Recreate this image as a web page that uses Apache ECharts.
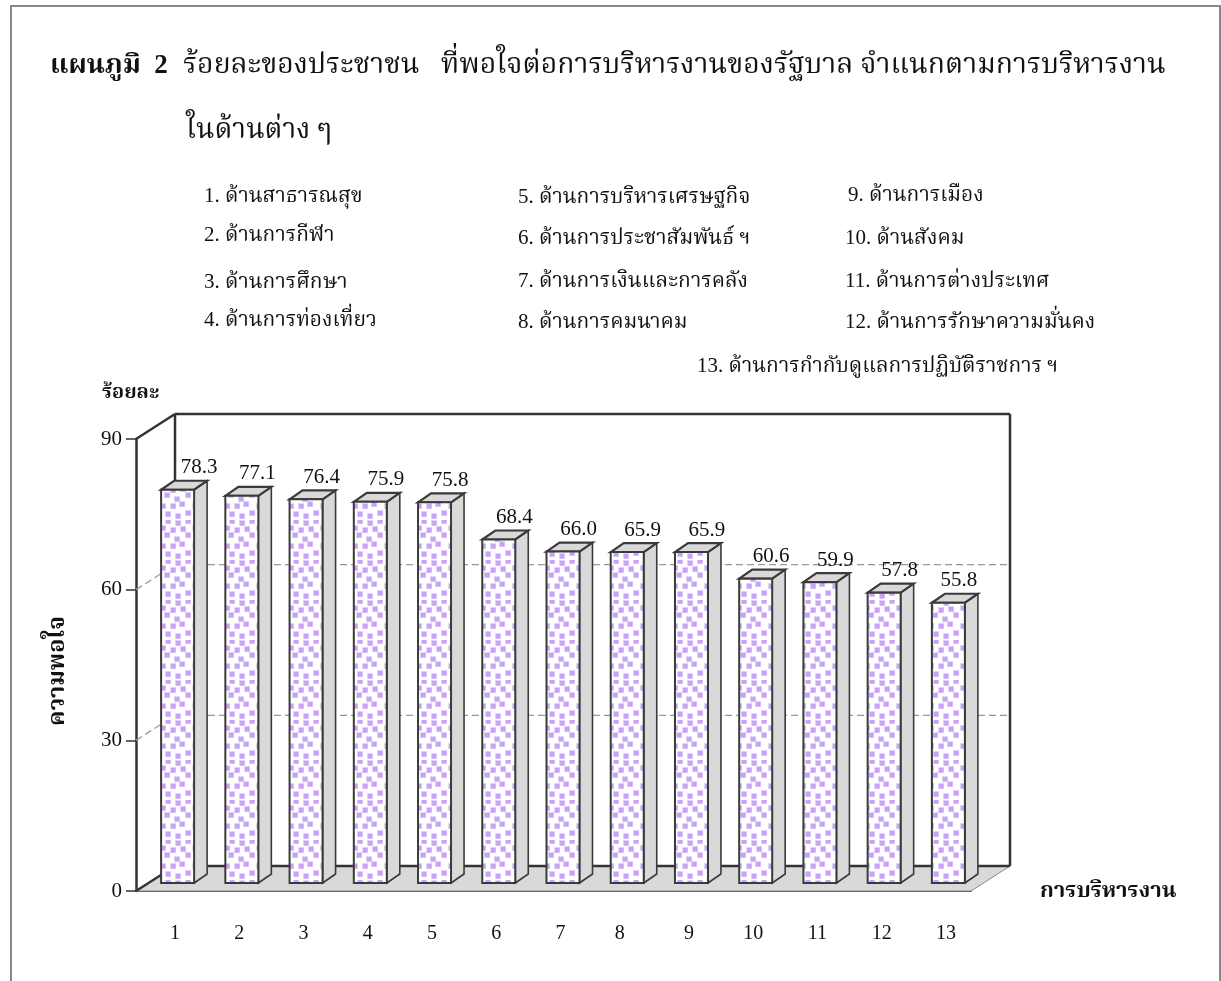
<!DOCTYPE html>
<html><head><meta charset="utf-8">
<style>html,body{margin:0;padding:0;background:#fff}#c{width:1221px;height:981px}</style>
<script src="https://cdn.jsdelivr.net/npm/echarts@6/dist/echarts.min.js"></script>
</head><body><div id="c"></div>
<script>
const categories = ['1','2','3','4','5','6','7','8','9','10','11','12','13'];
const satisfaction = [78.3,77.1,76.4,75.9,75.8,68.4,66.0,65.9,65.9,60.6,59.9,57.8,55.8];
const gridValues = [30,60];
const legendTexts = [
 '1. ด้านสาธารณสุข','2. ด้านการกีฬา','3. ด้านการศึกษา','4. ด้านการท่องเที่ยว',
 '5. ด้านการบริหารเศรษฐกิจ','6. ด้านการประชาสัมพันธ์ ฯ','7. ด้านการเงินและการคลัง','8. ด้านการคมนาคม',
 '9. ด้านการเมือง','10. ด้านสังคม','11. ด้านการต่างประเทศ','12. ด้านการรักษาความมั่นคง',
 '13. ด้านการกำกับดูแลการปฏิบัติราชการ ฯ'];
const legendPos = [[204,196],[204,235],[204,282],[204,320],[518,197],[518,238],[518,281],[518,322],[848,195],[845,238],[845,281],[845,322],[697,366]];
const titleBold = 'แผนภูมิ  2';
const titleLine1 = 'ร้อยละของประชาชน   ที่พอใจต่อการบริหารงานของรัฐบาล จำแนกตามการบริหารงาน';
const titleLine2 = 'ในด้านต่าง ๆ';
const yUnit = 'ร้อยละ', yName = 'ความพอใจ', xName = 'การบริหารงาน';
const labelShift = [14,14,14,14,14,14,14,4,14,14,14,14,14];
const valueLabelNudgeX = [6,0,0,0,0,0,0,0,0,0,0,0,-5];

const SERIF = '"Liberation Serif","Noto Serif Thai","Noto Sans Thai","Noto Sans","DejaVu Serif",serif';
const DX = 39, DY = -25, INK = '#333', SIDE = '#d9d9d9';

// dotted fill tile
const tile = document.createElement('canvas'); tile.width = 32; tile.height = 40;
const t = tile.getContext('2d');
t.fillStyle = '#fff'; t.fillRect(0,0,32,40);
[[8,1],[18,3],[28,1],[3,8],[13,10],[23,9],[7,15],[17,19],[28,15],[3,26],[13,26],[22,24],[8,34],[18,36],[28,33]].forEach(([x,y])=>{
  t.fillStyle = '#e3d2fb'; t.fillRect(x-3,y-3,6,6);
  t.fillStyle = '#c9a2f7'; t.fillRect(x-2,y-2,4.5,4.5);
});
const dots = {image: tile, repeat: 'repeat'};

function renderWalls(params, api){
  const c = params.coordSys, L=c.x, R=c.x+c.width, T=c.y, B=c.y+c.height;
  const kids = [];
  const line=(x1,y1,x2,y2,st)=>kids.push({type:'line',shape:{x1,y1,x2,y2},style:st});
  kids.push({type:'polygon',shape:{points:[[L,B],[L+DX,B+DY],[R+DX,B+DY],[R,B]]},style:{fill:SIDE,stroke:'#888',lineWidth:1}});
  gridValues.forEach(v=>{
    const y = api.coord([0,v])[1];
    const st = {stroke:'#999',lineWidth:1.3,lineDash:[7,4]};
    line(L,y,L+DX,y+DY,st); line(L+DX,y+DY,R+DX,y+DY,st);
  });
  const st = {stroke:INK,lineWidth:2.5};
  line(L,T,L+DX,T+DY,st); line(L+DX,T+DY,R+DX,T+DY,st);
  line(L+DX,T+DY,L+DX,B+DY,st); line(R+DX,T+DY,R+DX,B+DY,st);
  line(L,B,L+DX,B+DY,st); line(L+DX,B+DY,R+DX,B+DY,st);
  return {type:'group',children:kids};
}
function renderBar(params, api){
  const i = api.value(0), v = api.value(1);
  const cx = api.coord([i,0])[0], y0 = api.coord([i,0])[1]-8, y1 = api.coord([i,v])[1]-8;
  const x0 = cx-7, x1 = cx+26, dx = 13, dy = -9;
  const edge = {stroke:'#3a3a3a',lineWidth:2,lineJoin:'miter'};
  return {type:'group',children:[
    {type:'polygon',shape:{points:[[x1,y0],[x1+dx,y0+dy],[x1+dx,y1+dy],[x1,y1]]},style:{fill:SIDE,...edge,lineWidth:1.6}},
    {type:'polygon',shape:{points:[[x0,y1],[x0+dx,y1+dy],[x1+dx,y1+dy],[x1,y1]]},style:{fill:SIDE,...edge,lineWidth:2.2}},
    {type:'rect',shape:{x:x0,y:y1,width:x1-x0,height:y0-y1},style:{fill:dots,...edge}},
    {type:'text',style:{x:cx+25+valueLabelNudgeX[i],y:y1+dy-13,text:v.toFixed(1),fill:'#111',font:'21px "Liberation Serif",serif',textAlign:'center',textVerticalAlign:'middle'}}
  ]};
}
const chart = echarts.init(document.getElementById('c'),null,{renderer:'canvas'});
chart.setOption({
  animation:false, backgroundColor:'#fff',
  title:[
    {text:titleBold,left:50,top:53,padding:0,textStyle:{fontFamily:SERIF,fontSize:27,fontWeight:'bold',color:'#111'}},
    {text:titleLine1,left:183,top:52,padding:0,textStyle:{fontFamily:SERIF,fontSize:28.4,fontWeight:'normal',color:'#111'}},
    {text:titleLine2,left:186,top:117,padding:0,textStyle:{fontFamily:SERIF,fontSize:28,fontWeight:'normal',color:'#111'}},
    {text:yUnit,left:102,top:383,padding:0,textStyle:{fontFamily:SERIF,fontSize:20,fontWeight:'bold',color:'#111'}}
  ],
  graphic:[
    {type:'polyline',silent:true,shape:{points:[[11,981],[11,6],[1220,6],[1220,981]]},style:{stroke:'#888',lineWidth:2,fill:null}},
    ...legendTexts.map((s,i)=>({type:'text',silent:true,x:legendPos[i][0],y:legendPos[i][1],style:{text:s,fill:'#111',font:'21px '+SERIF,textVerticalAlign:'middle'}}))
  ],
  grid:{left:136,top:439,width:835,height:452,containLabel:false},
  xAxis:{type:'category',
    data:categories.map((c,i)=>({value:c,textStyle:{padding:[0,0,0,labelShift[i]]}})),
    boundaryGap:true,
    name:xName,nameLocation:'end',nameGap:69,nameTextStyle:{fontFamily:SERIF,fontSize:22,fontWeight:'bold',color:'#111',align:'left',verticalAlign:'middle',padding:[0,0,0,0]},
    axisLine:{lineStyle:{color:'#555',width:2}},axisTick:{length:8,lineStyle:{color:'#555',width:1.5}},
    axisLabel:{margin:33,interval:0,fontFamily:'"Liberation Serif",serif',fontSize:20,color:'#111'},splitLine:{show:false}},
  yAxis:{type:'value',min:0,max:90,interval:30,
    name:yName,nameLocation:'middle',nameGap:67,nameRotate:90,nameTextStyle:{fontFamily:SERIF,fontSize:23.3,fontWeight:'bold',color:'#111',padding:[0,12,0,0]},
    axisLine:{show:true,lineStyle:{color:INK,width:2.5}},axisTick:{show:true,length:10,lineStyle:{color:INK,width:1.5}},
    axisLabel:{margin:14,fontFamily:'"Liberation Serif",serif',fontSize:21,color:'#111'},splitLine:{show:false}},
  series:[
    {type:'custom',name:'walls',z:1,silent:true,data:[[0,0]],renderItem:renderWalls,encode:{x:0,y:1},clip:false},
    {type:'custom',name:'ร้อยละ',z:3,data:satisfaction.map((v,i)=>[i,v]),renderItem:renderBar,encode:{x:0,y:1},clip:false}
  ]
});
</script></body></html>
